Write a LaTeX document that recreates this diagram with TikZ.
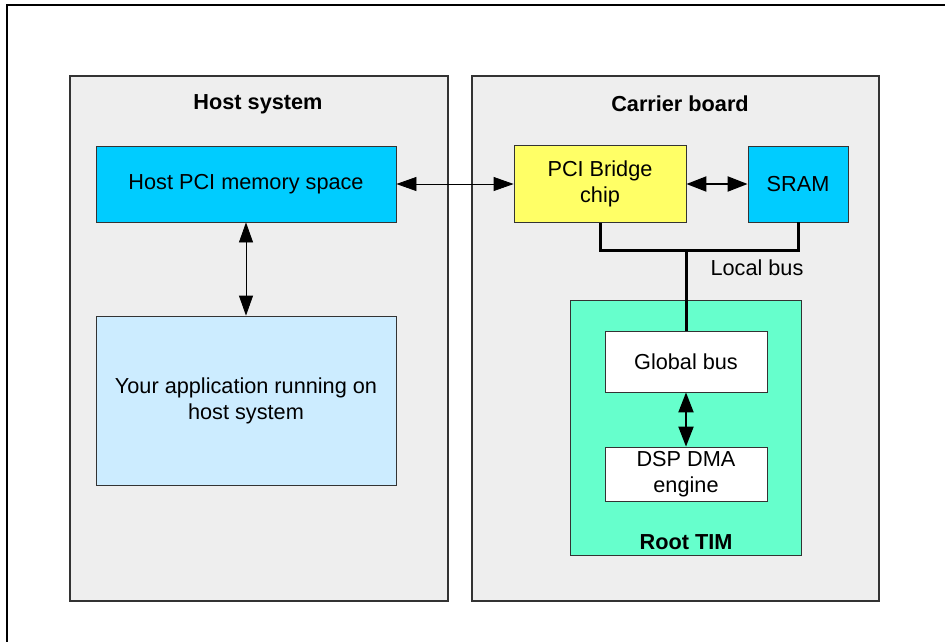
\documentclass[tikz,border=0pt]{standalone}
\usepackage{fontspec}
\setmainfont{Liberation Sans}
\usetikzlibrary{arrows.meta}

\definecolor{panelgray}{HTML}{EEEEEE}
\definecolor{pcicyan}{HTML}{00CCFF}
\definecolor{applightblue}{HTML}{CCECFF}
\definecolor{bridgeyellow}{HTML}{FFFF66}
\definecolor{timgreen}{HTML}{66FFCC}

\tikzset{
    panel/.style={draw=black!80, fill=panelgray, line width=1.2pt, inner sep=0pt},
    block/.style={draw=black!80, line width=0.8pt, inner sep=0pt, align=center,
                  font=\fontsize{21.7}{26}\selectfont},
    title/.style={font=\fontsize{21.7}{26}\selectfont\bfseries},
    thinlink/.style={{Triangle[length=20pt,width=14pt]}-{Triangle[length=20pt,width=14pt]}, line width=0.8pt},
    thicklink/.style={{Triangle[length=20pt,width=15pt]}-{Triangle[length=20pt,width=15pt]}, line width=2pt},
    bus/.style={line width=3pt}
}

\begin{document}
\begin{tikzpicture}[x=1pt, y=-1pt]
    \clip (0,0) rectangle (945,641);
    \draw[line width=2.5pt] (7,5) rectangle (1000,700);

    % panels
    \node[panel, minimum width=378pt, minimum height=525pt] (host) at (259,338.5) {};
    \node[panel, minimum width=407pt, minimum height=525pt] (carrier) at (675.5,338.5) {};
    \node[title] (hosttitle) at (258,104) {Host system};
    \node[title] (carriertitle) at (680,104) {Carrier board};

    % host side
    \node[block, fill=pcicyan, minimum width=300pt, minimum height=76pt] (hpci) at (246,184) {Host PCI memory space};
    \node[block, fill=applightblue, minimum width=300pt, minimum height=169pt] (app) at (246,400.5)
        {Your application running on\\host system};

    % carrier side
    \node[block, fill=bridgeyellow, minimum width=172pt, minimum height=77pt] (bridge) at (600,184) {PCI Bridge\\chip};
    \node[block, fill=pcicyan, minimum width=100pt, minimum height=76pt] (sram) at (798,184) {SRAM};
    \node[block, fill=timgreen, minimum width=231pt, minimum height=255pt] (tim) at (685.5,427.5) {};
    \node[title] (timtitle) at (686,542) {Root TIM};
    \node[block, fill=white, minimum width=162pt, minimum height=61pt] (global) at (686,361.5) {Global bus};
    \node[block, fill=white, minimum width=162pt, minimum height=54pt] (dma) at (686,474) {DSP DMA\\engine};

    % local bus
    \coordinate (busjoint) at (686,250);
    \draw[bus] (bridge.south) |- (sram.south |- busjoint) -- (sram.south);
    \draw[bus] (busjoint) -- (global.north);
    \node[anchor=west, font=\fontsize{21.7}{26}\selectfont] (buslabel) at (707,268) {Local bus};

    % links
    \draw[thinlink] (hpci.east) -- (bridge.west);
    \draw[thinlink] (hpci.south) -- (app.north);
    \draw[thicklink] (bridge.east) -- (sram.west);
    \draw[thicklink] (global.south) -- (dma.north);
\end{tikzpicture}
\end{document}
